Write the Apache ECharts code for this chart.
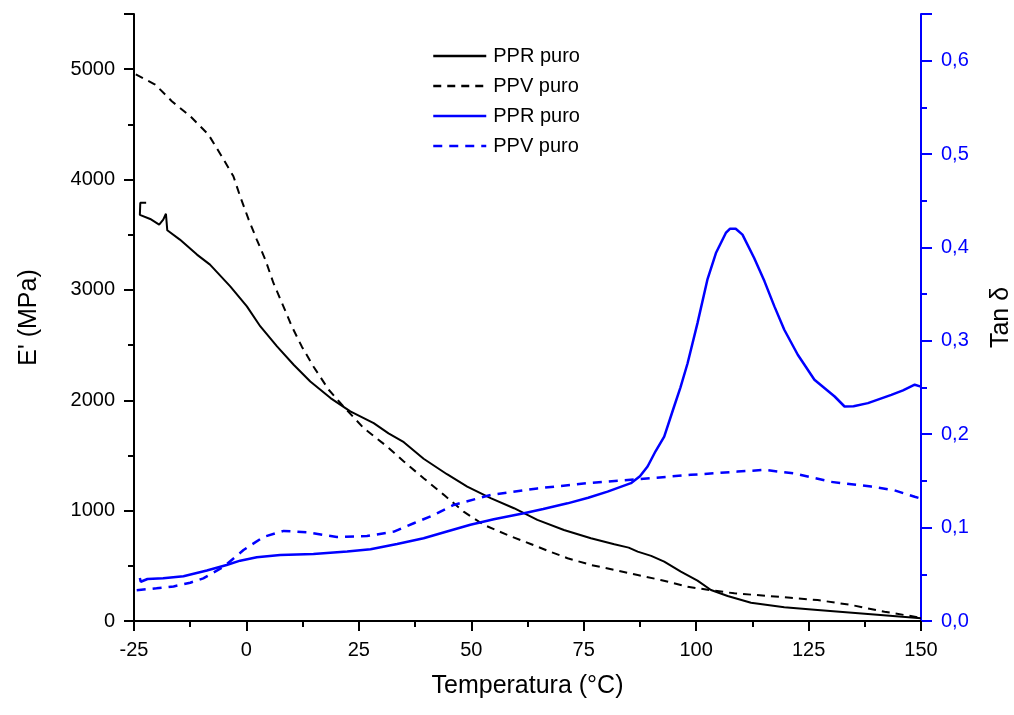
<!DOCTYPE html>
<html lang="pt" style="height: 100%">

<head>
  <meta charset="UTF-8" />
  <title>E' e Tan δ</title>
  <script src="https://cdn.jsdelivr.net/npm/echarts@6/dist/echarts.min.js"></script>
</head>

<body style="height: 100%; margin: 0; background: #fff">
  <div id="main" style="width: 1014px; height: 715px"></div>
  <script type="text/javascript">
    // eixo x: temperatura (°C)
    var xTicks = [-25, 0, 25, 50, 75, 100, 125, 150];

    // E' (MPa) - PPR puro, [temperatura, E']
    var pprModulo = [
      [-22.3, 3790], [-23.6, 3790], [-23.7, 3680], [-21.4, 3643], [-19.4, 3592], [-18.5, 3637],
      [-17.9, 3690], [-17.6, 3540], [-14.8, 3456], [-11.0, 3320], [-8.1, 3229], [-3.6, 3032],
      [0.1, 2851], [3.1, 2669], [6.8, 2488], [10.5, 2322], [14.2, 2170], [18.7, 2020],
      [23.1, 1899], [28.3, 1793], [31.6, 1700], [35, 1620], [39.4, 1470], [44.6, 1330],
      [49.1, 1218], [54.3, 1113], [59.5, 1022], [64.7, 916], [70.6, 825], [76.6, 750],
      [81.8, 696], [85, 665], [87, 629], [90, 590], [92.9, 538], [96.6, 447], [100.3, 366],
      [103.3, 281], [107, 227], [112.2, 166], [119.6, 124], [127, 100], [138.2, 63], [150, 24]
    ];

    // E' (MPa) - PPV puro
    var ppvModulo = [
      [-24.6, 4952], [-20.3, 4861], [-16.6, 4710], [-12.5, 4574], [-8.45, 4408], [-5.5, 4211],
      [-2.9, 4030], [-1.4, 3848], [0.5, 3637], [2.3, 3456], [4.2, 3274], [6.0, 3063],
      [7.9, 2882], [10.1, 2669], [12.3, 2488], [14.9, 2306], [18.3, 2095], [21.6, 1944],
      [26.1, 1747], [31.3, 1580], [35, 1445], [39.4, 1294], [43.9, 1143], [48.3, 991],
      [52.8, 871], [58, 780], [63.2, 698], [66.9, 638], [71.4, 569], [76.6, 508], [81.8, 463],
      [87, 417], [92.1, 372], [98.1, 311], [103, 280], [108.5, 251], [115.9, 227], [121, 210],
      [127, 190], [134.5, 145], [141.9, 84], [149.3, 34]
    ];

    // Tan delta - PPR puro
    var pprTan = [
      [-23.7, 0.046], [-23.5, 0.042], [-22, 0.045], [-18.5, 0.0458], [-14, 0.048], [-8.8, 0.054],
      [-4.4, 0.060], [-1.4, 0.0646], [2.3, 0.0683], [7.5, 0.0707], [14.9, 0.0718], [22.4, 0.0743],
      [27.6, 0.0768], [33.5, 0.0825], [39.4, 0.0886], [44, 0.095], [49.8, 0.103], [55, 0.109],
      [61.7, 0.1154], [66, 0.120], [71.4, 0.126], [76, 0.132], [80.3, 0.1386], [85.5, 0.1476],
      [87.5, 0.155], [89.2, 0.1654], [91, 0.182], [92.9, 0.1975], [95.1, 0.2297], [96.5, 0.25],
      [98.1, 0.276], [100.3, 0.319], [102.5, 0.3655], [104.4, 0.394], [106.6, 0.4155],
      [107.5, 0.420], [108.8, 0.420], [110.3, 0.4137], [112.9, 0.3887], [115.2, 0.3637],
      [117.4, 0.3369], [119.6, 0.3119], [122.6, 0.2851], [126.3, 0.2583], [130.8, 0.2404],
      [133, 0.2297], [135, 0.230], [138.2, 0.2333], [143.4, 0.2422], [146, 0.247],
      [148.6, 0.253], [150, 0.251]
    ];

    // Tan delta - PPV puro
    var ppvTan = [
      [-24.4, 0.033], [-20, 0.035], [-16.2, 0.037], [-12.5, 0.041], [-9.6, 0.0457], [-5.1, 0.058],
      [-0.65, 0.076], [3.8, 0.090], [8.3, 0.0965], [13.5, 0.095], [20.1, 0.090], [26.8, 0.091],
      [32.8, 0.0957], [37.2, 0.1047], [41.7, 0.1136], [46.1, 0.1243], [54.3, 0.135],
      [64.7, 0.142], [76.6, 0.148], [87, 0.1518], [98.8, 0.1565], [109.2, 0.160],
      [115.2, 0.1618], [121.8, 0.158], [130, 0.149], [138.9, 0.144], [144.1, 0.140],
      [148.6, 0.133], [150, 0.131]
    ];

    var fonte = 'Liberation Sans, Arial, sans-serif';
    var azul = '#0000ff';

    var myChart = echarts.init(document.getElementById('main'), null, { renderer: 'canvas' });

    var option = {
      animation: false,
      backgroundColor: '#fff',
      textStyle: { fontFamily: fonte },
      grid: { left: 134, right: 93, top: 14, bottom: 94, containLabel: false, outerBoundsMode: 'none' },
      legend: {
        orient: 'vertical',
        left: 432,
        top: 46,
        padding: 0,
        itemWidth: 53,
        itemHeight: 20,
        itemGap: 10,
        itemStyle: { opacity: 0 },
        lineStyle: { width: 2.5 },
        textStyle: { fontSize: 20, color: '#000', fontFamily: fonte, padding: [0, 0, 0, 2] },
        formatter: function (name) { return name.trim(); }
      },
      xAxis: {
        type: 'value',
        min: xTicks[0],
        max: xTicks[xTicks.length - 1],
        interval: 25,
        name: 'Temperatura (°C)',
        nameLocation: 'middle',
        nameGap: 53,
        nameTextStyle: { fontSize: 25, color: '#000' },
        axisLine: { onZero: false, lineStyle: { color: '#000', width: 2 } },
        axisTick: { length: 10, lineStyle: { width: 2 } },
        minorTick: { show: true, splitNumber: 2, length: 6, lineStyle: { color: '#000', width: 2 } },
        axisLabel: { fontSize: 20, color: '#000', margin: 19 },
        splitLine: { show: false }
      },
      yAxis: [
        {
          type: 'value',
          position: 'left',
          min: 0,
          max: 5500,
          interval: 1000,
          name: "E' (MPa)",
          nameLocation: 'middle',
          nameGap: 92,
          nameRotate: 90,
          nameTextStyle: { fontSize: 25, color: '#000' },
          axisLine: { show: true, onZero: false, lineStyle: { color: '#000', width: 2 } },
          axisTick: { show: true, length: 10, lineStyle: { width: 2 } },
          minorTick: { show: true, splitNumber: 2, length: 6, lineStyle: { color: '#000', width: 2 } },
          axisLabel: {
            fontSize: 20, color: '#000', margin: 19,
            formatter: function (v) { return v > 5000 ? '' : String(v); }
          },
          splitLine: { show: false }
        },
        {
          type: 'value',
          position: 'right',
          min: 0,
          max: 0.65,
          interval: 0.1,
          name: 'Tan δ',
          nameLocation: 'middle',
          nameGap: 68,
          nameRotate: 90,
          nameTextStyle: { fontSize: 25, color: '#000' },
          axisLine: { show: true, onZero: false, lineStyle: { color: azul, width: 2 } },
          axisTick: { show: true, length: 11, lineStyle: { width: 2 } },
          minorTick: { show: true, splitNumber: 2, length: 6, lineStyle: { color: azul, width: 2 } },
          axisLabel: {
            fontSize: 20, color: azul, margin: 20,
            formatter: function (v) { return v > 0.61 ? '' : v.toFixed(1).replace('.', ','); }
          },
          splitLine: { show: false }
        }
      ],
      series: [
        {
          name: 'PPR puro', type: 'line', yAxisIndex: 0, data: pprModulo,
          symbol: 'none', lineStyle: { color: '#000', width: 2 }, itemStyle: { color: '#000' }
        },
        {
          name: 'PPV puro', type: 'line', yAxisIndex: 0, data: ppvModulo,
          symbol: 'none', lineStyle: { color: '#000', width: 2, type: [8, 6] }, itemStyle: { color: '#000' }
        },
        {
          name: 'PPR puro ', type: 'line', yAxisIndex: 1, data: pprTan,
          symbol: 'none', lineStyle: { color: azul, width: 2.5 }, itemStyle: { color: azul }
        },
        {
          name: 'PPV puro ', type: 'line', yAxisIndex: 1, data: ppvTan,
          symbol: 'none', lineStyle: { color: azul, width: 2.5, type: [9, 7] }, itemStyle: { color: azul }
        }
      ]
    };

    myChart.setOption(option);
    window.addEventListener('resize', myChart.resize);
  </script>
</body>

</html>
